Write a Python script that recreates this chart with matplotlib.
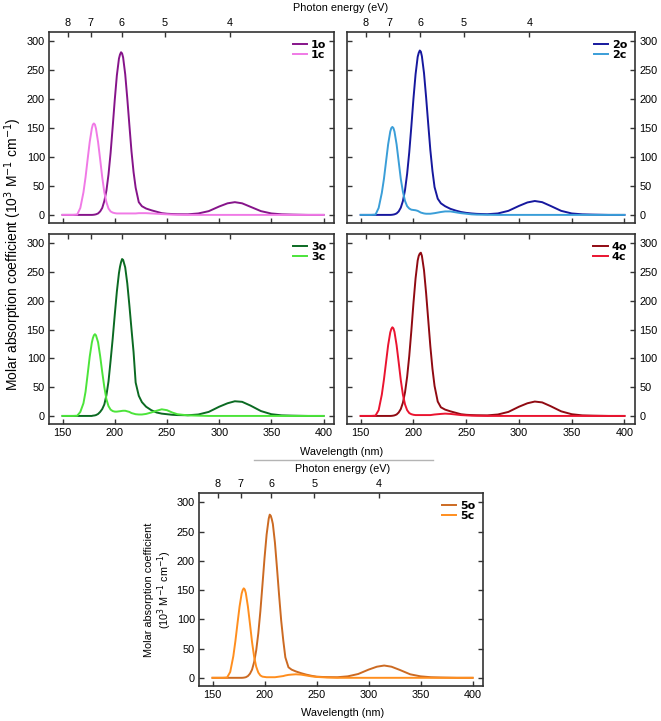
import matplotlib
matplotlib.use("Agg")
import matplotlib.pyplot as plt
from matplotlib.lines import Line2D

plt.rcParams['font.family'] = ['Liberation Sans', 'DejaVu Sans']

# wavelength grid (nm), shared by all spectra
wl = [150, 160, 164, 167, 170, 172, 174, 176, 178, 179, 180, 181, 182, 184, 186, 188, 190,
      192, 194, 196, 198, 200, 202, 204, 205, 206, 207, 208, 210, 212, 214, 216, 218, 220,
      223, 226, 230, 235, 240, 245, 250, 255, 260, 270, 280, 290, 300, 308, 315,
      322, 330, 340, 350, 360, 370, 385, 400]

# molar absorption coefficient (10^3 M^-1 cm^-1)
eps_1o = [0, 0, 0, 0, 0, 0, 0, 0, 0, 0.1, 0.3, 0.6, 1, 2.5, 6, 12, 24,
          42, 70, 107, 152, 199, 241, 270, 277, 281, 279, 272, 243, 201, 155, 110, 74, 47,
          22, 15, 11, 8, 5.5, 3, 2, 1.5, 1.2, 1, 2.5, 6.5, 14.5, 20, 22,
          20, 14, 6.5, 2.5, 1, 0.5, 0, 0]
eps_1c = [0, 0, 0.5, 12, 39, 65, 96, 126, 149, 156, 158, 156, 149, 126, 96, 65, 39,
          22, 11, 6, 4, 3, 2.5, 2.5, 2.5, 2.5, 2.5, 2.5, 2.5, 2.5, 2.5, 2.5, 2.5, 2.5,
          3, 3, 3, 2.5, 2, 1.5, 1, 0.5, 0.3, 0, 0, 0, 0, 0, 0,
          0, 0, 0, 0, 0, 0, 0, 0]
eps_2o = [0, 0, 0, 0, 0, 0, 0, 0, 0, 0.1, 0.3, 0.6, 1, 2.5, 6, 12.5, 24,
          43, 71, 108, 153, 201, 243, 273, 280, 284, 282, 274, 245, 203, 157, 112, 76, 48,
          28, 20, 15, 10.5, 7.5, 5, 3.5, 2.5, 1.8, 1.2, 2.5, 7, 15.5, 21.5, 24,
          22, 15.5, 7, 2.5, 1, 0.5, 0, 0]
eps_2c = [0, 0, 0.5, 12, 38, 62, 92, 122, 144, 150, 152, 150, 144, 122, 92, 62, 40,
          24, 15, 11, 9, 8.5, 8, 7, 6, 5, 4, 3.5, 2.5, 2, 2, 2, 2.5, 3,
          4, 5, 6, 6, 4.5, 3, 2, 1, 0.5, 0.2, 0, 0, 0, 0, 0,
          0, 0, 0, 0, 0, 0, 0, 0]
eps_3o = [0, 0, 0, 0, 0, 0, 0, 0, 0, 0.5, 0.7, 1, 1.5, 3.4, 7, 12, 20,
          36, 60, 96, 134, 176, 216, 248, 259, 267, 272.5, 271, 258, 230, 192, 151, 111, 58,
          35, 24, 16, 10, 6, 4, 3, 2, 1.5, 1.2, 2.5, 7, 16, 22, 25.5,
          24.5, 18, 8.5, 3, 1, 0.5, 0, 0]
eps_3c = [0, 0, 0.3, 7, 22, 42, 72, 103, 127, 135, 140, 142, 140, 128, 104, 76, 50,
          29, 17, 11, 8.5, 7.5, 7.5, 8, 8.2, 8.5, 8.8, 9, 9, 8, 7, 5, 4, 3,
          2.5, 2.5, 3.5, 6, 9, 11.5, 10, 6, 3, 1, 0.5, 0, 0, 0, 0,
          0, 0, 0, 0, 0, 0, 0, 0]
eps_4o = [0, 0, 0, 0, 0, 0, 0, 0, 0, 0.1, 0.3, 0.6, 1, 2.5, 6, 12, 23,
          41, 68, 104, 148, 196, 239, 270, 278, 282, 283.5, 278, 253, 213, 167, 121, 82, 52,
          25, 15, 11, 8, 5.5, 3, 2, 1.5, 1.2, 1, 2.5, 7, 16, 22, 25,
          23.5, 17, 8, 3, 1, 0.5, 0, 0]
eps_4c = [0, 0, 0.5, 10, 37, 63, 93, 123, 145, 151, 154, 152, 146, 123, 93, 62, 37,
          20, 10, 5, 3, 2, 1.5, 1.5, 1.5, 1.5, 1.5, 1.5, 1.5, 1.5, 1.5, 1.5, 2, 2.5,
          3, 3.5, 4, 3.5, 2.5, 1.5, 1, 0.5, 0.3, 0, 0, 0, 0, 0, 0,
          0, 0, 0, 0, 0, 0, 0, 0]
eps_5o = [0, 0, 0, 0, 0, 0, 0, 0, 0, 0.1, 0.3, 0.6, 1, 3, 7, 14, 27,
          47, 76, 114, 159, 205, 245, 272, 279, 277, 271, 263, 231, 187, 141, 98, 64, 35,
          18, 14, 11, 8, 5.5, 3.5, 2, 1.5, 1.2, 1, 2.5, 6.5, 14, 19, 21,
          19, 13.5, 6, 2.5, 1, 0.5, 0, 0]
eps_5c = [0, 0, 0.5, 10, 37, 63, 93, 122, 144, 150, 153, 151, 145, 122, 92, 61, 36,
          19, 9, 4, 2, 1.5, 1, 1, 1, 1, 1, 1, 1, 1.5, 2, 2.5, 3, 4,
          5, 5.5, 6, 5.5, 4, 2.5, 1.5, 1, 0.5, 0, 0, 0, 0, 0, 0,
          0, 0, 0, 0, 0, 0, 0, 0]

labels = [("1o", "1c"), ("2o", "2c"), ("3o", "3c"), ("4o", "4c"), ("5o", "5c")]
spectra = [(eps_1o, eps_1c), (eps_2o, eps_2c), (eps_3o, eps_3c),
           (eps_4o, eps_4c), (eps_5o, eps_5c)]
colors = [("#86148a", "#f07ae6"), ("#16189e", "#3a9ed8"), ("#0b6a22", "#4ce43a"),
          ("#900a12", "#ea1430"), ("#cc6a22", "#ff8e1e")]

wl_ticks = [150, 200, 250, 300, 350, 400]
ev_ticks = [8, 7, 6, 5, 4]
HC = 1239.84  # eV*nm

W, H = 661, 721
FS = 7.8
FRAME = "#333333"


def px_axes(fig, x0, y0, x1, y1):
    return fig.add_axes([x0 / W, 1 - y1 / H, (x1 - x0) / W, (y1 - y0) / H])


def draw_panel(ax, idx, left_labels=True, right_labels=False,
               bottom_labels=True, top_labels=True):
    eo, ec = spectra[idx]
    lo, lc = labels[idx]
    co, cc = colors[idx]
    ax.plot(wl, eo, color=co, lw=1.4, label=lo)
    ax.plot(wl, ec, color=cc, lw=1.4, label=lc)
    ax.set_xlim(137, 410)
    ax.set_ylim(-14, 316)
    ax.set_xticks(wl_ticks)
    ax.set_yticks([0, 50, 100, 150, 200, 250, 300])
    ax.tick_params(direction="in", length=3.5, width=1, color=FRAME,
                   labelsize=FS, pad=3,
                   left=True, right=True, top=False, bottom=True,
                   labelleft=left_labels, labelright=right_labels,
                   labelbottom=bottom_labels)
    for s in ax.spines.values():
        s.set_linewidth(1.2)
        s.set_color(FRAME)
    sec = ax.secondary_xaxis("top", functions=(lambda x: HC / x, lambda e: HC / e))
    sec.set_xticks(ev_ticks)
    sec.tick_params(direction="in", length=3.5, width=1, color=FRAME,
                    labelsize=FS, pad=3, labeltop=top_labels)
    sec.spines["top"].set_visible(False)
    ax.legend(loc="upper right", frameon=False, handlelength=1.3,
              handletextpad=0.35, labelspacing=0.05, borderaxespad=0.3,
              prop={"family": "DejaVu Sans", "weight": "bold", "size": 8})
    return ax


fig = plt.figure(figsize=(W / 100, H / 100), dpi=100)

ax1 = px_axes(fig, 49, 32, 334, 223)
draw_panel(ax1, 0, bottom_labels=False)
ax2 = px_axes(fig, 347, 32, 635, 223)
draw_panel(ax2, 1, left_labels=False, right_labels=True, bottom_labels=False)
ax3 = px_axes(fig, 49, 234, 334, 424)
draw_panel(ax3, 2, top_labels=False)
ax4 = px_axes(fig, 347, 234, 635, 424)
draw_panel(ax4, 3, left_labels=False, right_labels=True, top_labels=False)
ax5 = px_axes(fig, 199, 493, 483, 686)
draw_panel(ax5, 4)

ylab = "Molar absorption coefficient (10$^{3}$ M$^{-1}$ cm$^{-1}$)"
fig.text(13 / W, 1 - 254 / H, ylab, rotation=90, ha="center", va="center", fontsize=10)
fig.text(341 / W, 1 - 8 / H, "Photon energy (eV)", ha="center", va="center", fontsize=FS)
fig.text(342 / W, 1 - 452 / H, "Wavelength (nm)", ha="center", va="center", fontsize=FS)
fig.add_artist(Line2D([254 / W, 433 / W], [1 - 460 / H, 1 - 460 / H],
                      color="#b4b4b4", lw=1.0, transform=fig.transFigure))
fig.text(343 / W, 1 - 469 / H, "Photon energy (eV)", ha="center", va="center", fontsize=FS)
fig.text(159 / W, 1 - 590 / H,
         "Molar absorption coefficient\n(10$^{3}$ M$^{-1}$ cm$^{-1}$)",
         rotation=90, ha="center", va="center", fontsize=FS, linespacing=1.1)
fig.text(343 / W, 1 - 713 / H, "Wavelength (nm)", ha="center", va="center", fontsize=FS)

fig.savefig("out.png", dpi=100)
